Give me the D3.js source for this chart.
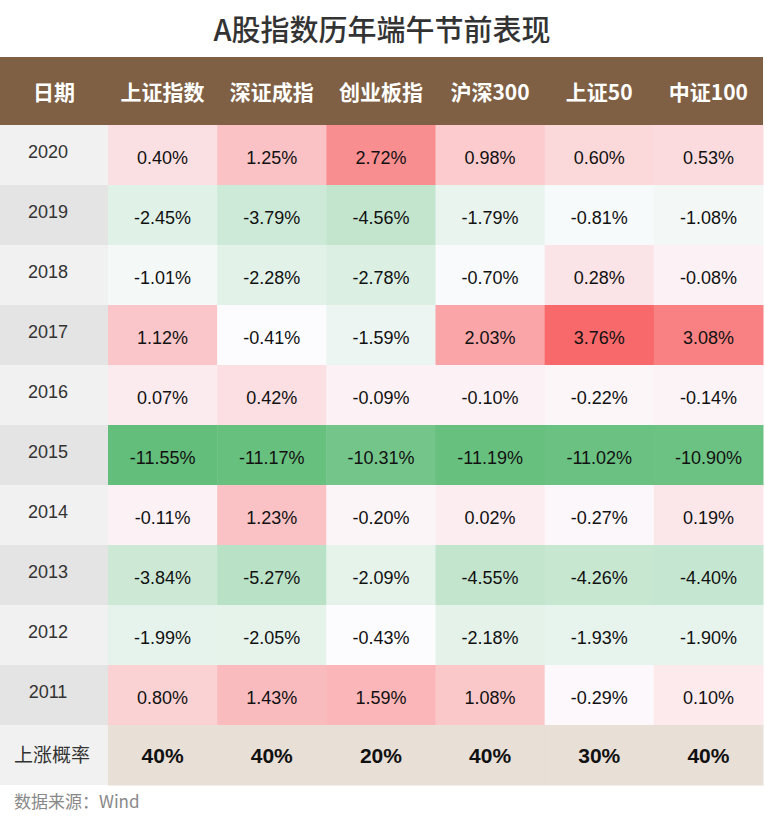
<!DOCTYPE html><html><head><meta charset="utf-8">
<script src="https://cdn.jsdelivr.net/npm/d3@7"></script>
<style>body{margin:0;background:#fff;font-family:"Noto Sans CJK SC","Liberation Sans",sans-serif}</style></head><body>
<svg id="c" width="765" height="837"></svg>
<script>
const columns=["上证指数","深证成指","创业板指","沪深300","上证50","中证100"];
const years=["2020","2019","2018","2017","2016","2015","2014","2013","2012","2011"];
const values=[
[0.40,1.25,2.72,0.98,0.60,0.53],
[-2.45,-3.79,-4.56,-1.79,-0.81,-1.08],
[-1.01,-2.28,-2.78,-0.70,0.28,-0.08],
[1.12,-0.41,-1.59,2.03,3.76,3.08],
[0.07,0.42,-0.09,-0.10,-0.22,-0.14],
[-11.55,-11.17,-10.31,-11.19,-11.02,-10.90],
[-0.11,1.23,-0.20,0.02,-0.27,0.19],
[-3.84,-5.27,-2.09,-4.55,-4.26,-4.40],
[-1.99,-2.05,-0.43,-2.18,-1.93,-1.90],
[0.80,1.43,1.59,1.08,-0.29,0.10]];
const upRates=["40%","40%","20%","40%","30%","40%"];

const svg=d3.select("#c");
const firstW=108, colW=(763-firstW)/6;
const x=d3.scaleBand().domain(d3.range(6)).range([firstW,763]);
const xc=i=>x(i);
const rows=[...years,"上涨概率"];
const y=d3.scaleBand().domain(rows).range([125,785]);
const color=d3.scaleLinear().domain([-11.55,-0.4,3.76]).range(["#63be7b","#fcfcff","#f8696b"]);

svg.append("text").attr("x",382).attr("y",41).attr("text-anchor","middle").attr("font-size",29).attr("font-weight","500").attr("fill","#333").text("A股指数历年端午节前表现");
svg.append("rect").attr("x",0).attr("y",57).attr("width",763).attr("height",68).attr("fill","#7f6044");
const hdr=["日期",...columns];
hdr.forEach((h,i)=>{
  const cx=i==0?firstW/2:xc(i-1)+colW/2;
  svg.append("text").attr("x",cx).attr("y",100).attr("text-anchor","middle").attr("font-size",21).attr("font-weight","bold").attr("fill","#fff").text(h);
});
svg.append("text").attr("x",380).attr("y",440).attr("text-anchor","middle").attr("font-size",130).attr("font-weight","bold").attr("fill","#000").attr("opacity",0.04).attr("font-family","Liberation Sans").text("Wind");
rows.forEach((r,ri)=>{
  const y0=y(r),h=y.bandwidth();
  const last=ri==rows.length-1;
  svg.append("rect").attr("x",0).attr("y",y0).attr("width",firstW).attr("height",h).attr("fill",(ri%2==0||last)?"#f1f1f1":"#e4e4e4");
  svg.append("text").attr("x",last?52:48).attr("y",y0+h/2+(last?7:3)).attr("text-anchor","middle").attr("font-size",last?19:18).attr("fill","#333").attr("font-family",last?"Noto Sans CJK SC":"Liberation Sans").text(r);
  columns.forEach((c,ci)=>{
    const v=last?null:values[ri][ci];
    svg.append("rect").attr("x",xc(ci)).attr("y",y0).attr("width",colW+0.5).attr("height",h+0.5).attr("fill",last?"#e8dfd7":color(v));
    svg.append("text").attr("x",xc(ci)+colW/2).attr("y",y0+h/2+(last?8:9)).attr("text-anchor","middle").attr("font-size",last?21:18)
      .attr("font-weight",last?"bold":"normal").attr("fill","#111").attr("font-family","Liberation Sans")
      .text(last?upRates[ci]:v.toFixed(2)+"%");
  });
});
svg.append("text").attr("x",14).attr("y",808).attr("font-size",17).attr("fill","#888").text("数据来源：Wind");
</script></body></html>
